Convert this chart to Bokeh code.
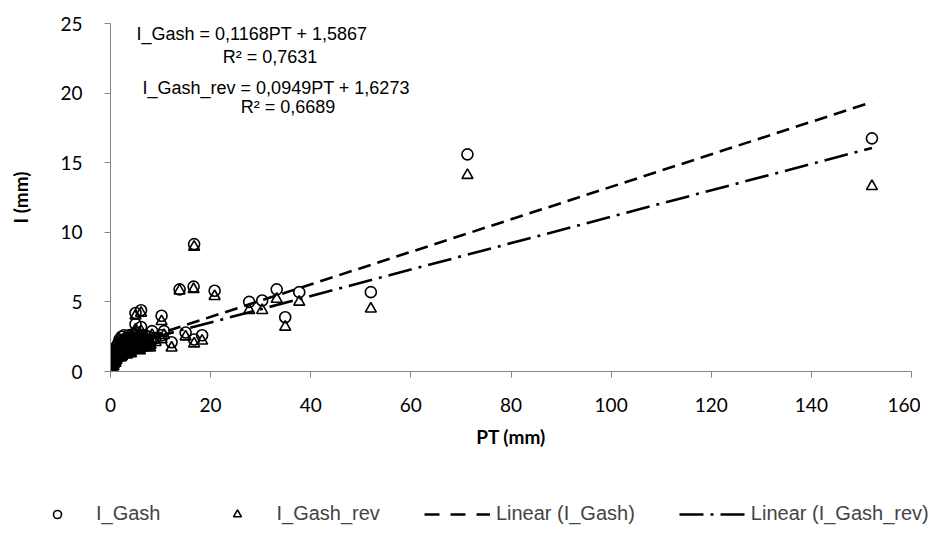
import numpy as np
from bokeh.plotting import figure
from bokeh.layouts import column
from bokeh.models import Range1d, Legend, LegendItem, Label, FixedTicker
from bokeh.embed import file_html
from bokeh.resources import INLINE

# ---- data ----
pt = [0.1, 0.2, 0.3, 0.4, 0.5, 0.6, 0.7, 0.8, 0.9, 1.0, 1.1, 1.2, 1.3, 1.5, 1.6,
      1.8, 1.9, 2.0, 2.2, 2.3, 2.5, 2.7, 2.8, 3.0, 3.2, 3.3, 3.5, 3.7, 3.9, 4.0,
      4.2, 4.4, 4.6, 4.8, 5.0, 5.0, 5.0, 5.2, 5.5, 5.7, 6.0, 6.1, 6.1, 6.3, 6.6,
      7.0, 7.3, 7.6, 8.0, 8.3, 9.0, 10.2, 10.7, 10.2, 12.2, 15.0, 16.7, 18.3,
      0.3, 0.6, 0.9, 1.2, 1.4, 1.7, 2.1, 2.4, 2.6, 2.9, 3.4, 3.6, 4.1, 4.5, 5.4,
      5.9, 6.5, 6.9, 7.4, 7.9, 1.0, 2.0, 3.1, 4.3,
      13.8, 16.6, 16.7, 20.8, 27.7, 30.3, 33.2, 34.9, 37.7, 52.0, 71.3, 152.1]
i_gash = [0.2, 0.4, 0.3, 0.7, 0.5, 0.9, 0.6, 1.2, 0.8, 1.5, 1.0, 1.8, 1.2, 2.0, 1.4,
          2.3, 1.1, 1.7, 2.5, 1.3, 2.0, 2.6, 1.5, 2.2, 2.4, 1.4, 1.8, 2.6, 1.6, 2.1,
          2.4, 1.7, 2.7, 1.9, 2.3, 4.2, 3.4, 2.8, 1.8, 2.5, 2.1, 4.4, 3.2, 2.6, 1.9,
          2.3, 2.0, 2.5, 2.2, 2.9, 2.4, 4.0, 2.9, 2.6, 2.1, 2.8, 2.3, 2.6,
          0.6, 0.4, 1.1, 0.9, 1.6, 1.9, 1.2, 2.1, 1.8, 2.0, 2.2, 1.9, 1.5, 2.2, 2.1,
          1.7, 2.2, 2.6, 2.3, 1.9, 0.7, 2.2, 1.7, 2.6,
          5.9, 6.1, 9.15, 5.8, 5.0, 5.1, 5.9, 3.9, 5.7, 5.7, 15.6, 16.75]
i_gash_rev = [0.15, 0.3, 0.25, 0.6, 0.45, 0.8, 0.55, 1.0, 0.7, 1.3, 0.9, 1.6, 1.0, 1.7, 1.2,
              2.0, 1.0, 1.5, 2.2, 1.1, 1.7, 2.3, 1.3, 1.9, 2.1, 1.2, 1.6, 2.3, 1.4, 1.8,
              2.1, 1.5, 2.4, 1.6, 2.0, 4.0, 3.0, 2.5, 1.6, 2.2, 1.8, 4.2, 2.9, 2.3, 1.7,
              2.0, 1.8, 2.2, 1.9, 2.6, 2.1, 3.6, 2.6, 2.3, 1.7, 2.5, 2.0, 2.2,
              0.5, 0.35, 0.9, 0.8, 1.4, 1.6, 1.0, 1.8, 1.6, 1.7, 1.9, 1.7, 1.3, 1.9, 1.8,
              1.5, 1.9, 2.3, 2.0, 1.7, 0.6, 1.9, 1.5, 2.3,
              5.8, 5.9, 8.95, 5.4, 4.4, 4.4, 5.2, 3.2, 5.0, 4.5, 14.1, 13.3]
slopes = [0.1168, 0.0949]
intercepts = [1.5867, 1.6273]
eq_texts = ["I_Gash  = 0,1168PT + 1,5867", "R\u00b2 = 0,7631",
            "I_Gash_rev = 0,0949PT + 1,6273", "R\u00b2 = 0,6689"]
series_names = ["I_Gash", "I_Gash_rev", "Linear (I_Gash)", "Linear (I_Gash_rev)"]
x_ticks = [0, 20, 40, 60, 80, 100, 120, 140, 160]
y_ticks = [0, 5, 10, 15, 20, 25]

p = figure(width=920, height=470, x_range=Range1d(0, 160), y_range=Range1d(0, 25),
           output_backend="svg", toolbar_location=None,
           min_border_left=110, min_border_right=9, min_border_top=23,
           min_border_bottom=99)
p.frame_align = False
p.outline_line_color = None
p.xgrid.visible = False
p.ygrid.visible = False

axis_grey = "#868686"
for ax in (p.xaxis[0], p.yaxis[0]):
    ax.axis_line_color = axis_grey
    ax.major_tick_line_color = axis_grey
    ax.minor_tick_line_color = None
    ax.major_tick_in = 0
    ax.major_tick_out = 6
    ax.major_label_text_font = "Lato"
    ax.major_label_text_font_size = "19px"
    ax.major_label_text_color = "black"
    ax.axis_label_text_font = "Lato"
    ax.axis_label_text_font_size = "19px"
    ax.axis_label_text_font_style = "bold"
    ax.axis_label_text_color = "black"

p.xaxis.ticker = FixedTicker(ticks=x_ticks)
p.yaxis.ticker = FixedTicker(ticks=y_ticks)
p.xaxis.axis_label = "PT (mm)"
p.yaxis.axis_label = "I (mm)"
p.xaxis.major_label_standoff = 20
p.yaxis.major_label_standoff = 22
p.xaxis.axis_label_standoff = 10
p.yaxis.axis_label_standoff = 25

marker_style = dict(size=11, fill_alpha=0, line_color="black", line_width=1.6)
r_c = p.scatter(pt, i_gash, marker="circle", **marker_style)
r_t = p.scatter(pt, i_gash_rev, marker="triangle", **marker_style)

xmin, xmax = min(pt), max(pt)
lx = [xmin, xmax]
dash1 = "13 7"
dash2 = "24 7 3 7"
p.line(lx, [slopes[0] * v + intercepts[0] for v in lx], line_color="black",
       line_width=2.6, line_dash=dash1)
p.line(lx, [slopes[1] * v + intercepts[1] for v in lx], line_color="black",
       line_width=2.6, line_dash=dash2)

# trendline equations
eq_pos = [(5.2, 24.28), (22.4, 22.56), (6.4, 20.4), (26.0, 19.0)]
for t, (ex, ey) in zip(eq_texts, eq_pos):
    p.add_layout(Label(x=ex, y=ey, text=t, text_font="Liberation Sans",
                       text_font_size="18px", text_baseline="middle",
                       text_color="black"))

# legend strip below the chart
p2 = figure(width=936, height=60, x_range=Range1d(0, 1), y_range=Range1d(0, 1),
            output_backend="svg", toolbar_location=None, min_border=0,
            min_border_left=0, min_border_right=0)
p2.frame_align = False
p2.axis.visible = False
p2.grid.visible = False
p2.outline_line_color = None
off = [-2, -1]  # off-canvas samples used only for the legend glyphs
g_c = p2.scatter(off, off, marker="circle", **marker_style)
g_t = p2.scatter(off, off, marker="triangle", **marker_style)
g_l1 = p2.line(off, off, line_color="black", line_width=2.6, line_dash="15 11")
g_l2 = p2.line(off, off, line_color="black", line_width=2.6, line_dash=dash2)

legend = Legend(items=[LegendItem(label=series_names[0], renderers=[g_c]),
                       LegendItem(label=series_names[1], renderers=[g_t]),
                       LegendItem(label=series_names[2], renderers=[g_l1]),
                       LegendItem(label=series_names[3], renderers=[g_l2])],
                orientation="horizontal", location=(24, 5),
                label_text_font="Liberation Sans", label_text_font_size="20px",
                glyph_width=66, label_standoff=6, spacing=44, padding=0, margin=0,
                border_line_color=None, background_fill_alpha=0)
p2.add_layout(legend)

open("out.html", "w").write(file_html(column(p, p2), INLINE))
